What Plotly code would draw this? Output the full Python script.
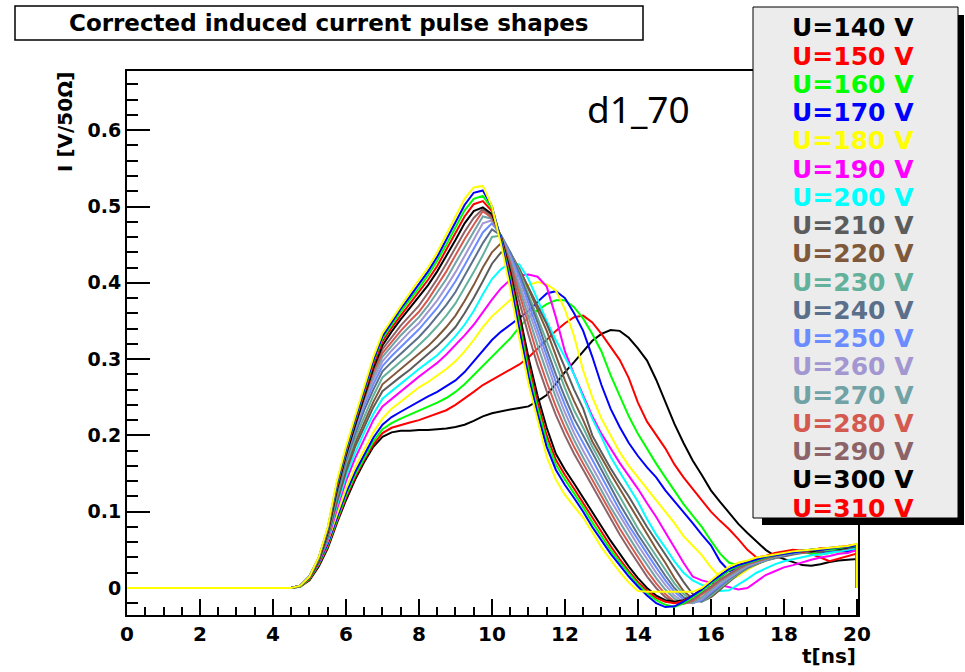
import plotly.graph_objects as go

# ---- sample times (ns): baseline point, 0.25 ns grid 4.5..20, closing bin ----
grid = [round(4.5 + 0.25 * k, 2) for k in range(63)]
times = [0.0] + grid + [20.0]

# ---- induced current I [V/50 Ohm] on the grid above, one list per bias voltage ----
u140 = [0, .002, .010, .028, .052, .085, .115, .142, .165, .185, .198,
        .204, .206, .206, .207, .207, .208, .209, .211, .214, .219, .225,
        .229, .232, .234, .236, .238, .245, .253, .268, .283, .296, .310,
        .324, .333, .338, .337, .328, .314, .298, .273, .243, .215, .190,
        .167, .148, .128, .113, .098, .084, .072, .061, .050, .042,
        .038, .033, .030, .029, .031, .034, .036, .037, .038]
u150 = [0, .002, .011, .030, .054, .087, .118, .145, .168, .188, .203,
        .210, .214, .217, .220, .224, .228, .233, .240, .248, .257, .266,
        .273, .280, .287, .293, .302, .314, .326, .337, .347, .355, .357,
        .348, .333, .316, .299, .275, .243, .218, .200, .183, .162, .145,
        .130, .115, .100, .088, .077, .064, .050, .040, .042, .046,
        .048, .050, .049, .045, .040, .035, .038, .042, .045]
u160 = [0, .002, .012, .031, .056, .089, .121, .148, .171, .192, .208,
        .216, .222, .227, .232, .237, .243, .249, .257, .267, .279, .292,
        .303, .315, .327, .342, .355, .364, .372, .377, .377, .368, .353,
        .333, .310, .279, .252, .225, .202, .182, .163, .145, .127, .110,
        .095, .080, .062, .045, .033, .030, .033, .036, .040, .042,
        .043, .045, .047, .046, .044, .046, .048, .047, .050]
u170 = [0, .003, .013, .033, .058, .092, .125, .152, .175, .197, .214,
        .224, .231, .238, .245, .251, .257, .264, .272, .283, .297, .312,
        .325, .336, .345, .353, .363, .375, .386, .389, .380, .360, .337,
        .303, .266, .235, .211, .190, .173, .158, .145, .128, .114, .100,
        .085, .070, .056, .035, .022, .025, .030, .035, .040, .043,
        .046, .045, .048, .050, .047, .049, .050, .048, .052]
u180 = [0, .003, .014, .035, .061, .096, .130, .158, .182, .204, .222,
        .235, .244, .254, .263, .270, .278, .287, .297, .310, .325, .342,
        .356, .367, .378, .388, .397, .401, .398, .390, .365, .330, .285,
        .250, .222, .200, .178, .160, .145, .131, .116, .100, .085, .068,
        .055, .043, .027, .014, .010, .016, .024, .031, .036, .040,
        .044, .047, .046, .049, .051, .050, .052, .054, .055]
u190 = [0, .003, .015, .033, .062, .103, .140, .170, .196, .220, .238,
        .248, .257, .267, .277, .286, .295, .306, .318, .331, .345, .362,
        .378, .393, .404, .410, .411, .408, .395, .355, .310, .280, .252,
        .225, .202, .183, .164, .147, .130, .111, .093, .073, .053, .033,
        .015, .010, .007, .004, .001, -.002, .000, .008, .017, .022,
        .027, .030, .034, .037, .040, .042, .045, .046, .050]
u200 = [0, .003, .015, .035, .065, .108, .146, .177, .204, .228, .248,
        .258, .268, .277, .287, .296, .305, .317, .330, .345, .363, .385,
        .405, .418, .426, .424, .405, .378, .350, .325, .303, .280, .250,
        .222, .198, .172, .152, .133, .113, .090, .070, .053, .035, .020,
        .010, .004, .000, -.004, -.003, .004, .012, .020, .026, .031,
        .035, .038, .040, .043, .044, .046, .048, .050, .052]
u210 = [0, .003, .015, .035, .067, .112, .152, .185, .212, .237, .258,
        .268, .277, .286, .296, .306, .317, .329, .342, .360, .380, .402,
        .425, .440, .437, .418, .395, .370, .346, .318, .288, .260, .235,
        .200, .178, .157, .138, .120, .100, .080, .062, .044, .025, .008,
        -.008, -.016, -.012, -.002, .010, .020, .027, .032, .036, .040,
        .042, .045, .046, .048, .047, .050, .051, .052, .055]
u220 = [0, .003, .015, .036, .069, .116, .157, .190, .218, .244, .267,
        .277, .286, .296, .306, .317, .329, .342, .357, .376, .397, .420,
        .440, .452, .440, .418, .392, .365, .337, .305, .272, .245, .220,
        .192, .170, .150, .130, .110, .090, .070, .051, .033, .013, -.004,
        -.014, -.018, -.012, -.002, .008, .018, .026, .031, .036, .039,
        .042, .044, .046, .047, .049, .050, .050, .052, .054]
u230 = [0, .003, .015, .037, .071, .120, .162, .196, .225, .252, .276,
        .287, .297, .307, .318, .330, .343, .357, .373, .393, .414, .436,
        .460, .462, .440, .415, .385, .355, .324, .293, .262, .233, .210,
        .185, .163, .140, .120, .098, .078, .060, .042, .024, .006, -.008,
        -.016, -.018, -.010, .000, .010, .019, .026, .032, .036, .040,
        .043, .045, .046, .048, .050, .049, .052, .053, .055]
u240 = [0, .003, .015, .038, .073, .124, .167, .202, .233, .260, .284,
        .296, .307, .318, .329, .342, .356, .371, .388, .409, .430, .452,
        .470, .462, .440, .412, .380, .348, .313, .280, .250, .222, .200,
        .177, .155, .132, .110, .090, .070, .052, .034, .016, .000, -.012,
        -.018, -.017, -.008, .002, .012, .020, .027, .033, .037, .040,
        .043, .045, .047, .048, .050, .051, .050, .053, .056]
u250 = [0, .003, .015, .038, .075, .127, .171, .207, .239, .267, .291,
        .304, .316, .328, .339, .353, .367, .384, .402, .423, .444, .466,
        .478, .462, .437, .407, .373, .338, .303, .270, .240, .212, .190,
        .168, .146, .123, .102, .082, .063, .045, .027, .010, -.005, -.015,
        -.020, -.016, -.006, .004, .013, .021, .028, .033, .037, .041,
        .043, .046, .047, .049, .050, .051, .053, .052, .056]
u260 = [0, .003, .015, .039, .076, .130, .174, .211, .244, .273, .297,
        .311, .324, .336, .347, .362, .377, .395, .414, .435, .456, .478,
        .482, .460, .433, .400, .365, .330, .294, .260, .230, .203, .180,
        .158, .137, .115, .095, .075, .056, .038, .020, .004, -.010, -.018,
        -.020, -.014, -.004, .006, .014, .022, .029, .034, .038, .041,
        .044, .046, .048, .049, .051, .050, .053, .054, .056]
u270 = [0, .003, .015, .039, .077, .132, .177, .214, .248, .278, .303,
        .317, .331, .343, .355, .370, .387, .405, .426, .447, .467, .487,
        .484, .460, .430, .393, .355, .318, .283, .250, .220, .194, .171,
        .150, .128, .106, .086, .067, .048, .030, .013, -.002, -.014, -.020,
        -.019, -.012, -.002, .008, .016, .023, .030, .035, .038, .042,
        .044, .046, .048, .050, .050, .052, .053, .054, .057]
u280 = [0, .003, .015, .039, .077, .133, .179, .216, .251, .283, .308,
        .323, .337, .350, .362, .378, .396, .415, .436, .457, .476, .494,
        .485, .460, .426, .385, .345, .305, .270, .238, .210, .185, .163,
        .142, .120, .098, .078, .059, .040, .022, .006, -.008, -.018, -.021,
        -.017, -.009, .000, .010, .018, .025, .031, .035, .039, .042,
        .045, .047, .048, .050, .051, .052, .054, .053, .057]
u290 = [0, .003, .014, .038, .076, .133, .180, .218, .254, .287, .313,
        .329, .344, .357, .370, .387, .405, .425, .446, .467, .485, .497,
        .487, .460, .422, .375, .332, .292, .258, .227, .200, .176, .155,
        .134, .112, .090, .070, .051, .033, .015, .000, -.012, -.019, -.020,
        -.015, -.007, .002, .011, .019, .026, .032, .036, .039, .042,
        .045, .047, .049, .050, .051, .052, .053, .055, .057]
u300 = [0, .003, .014, .036, .073, .128, .174, .213, .252, .288, .318,
        .336, .352, .367, .382, .397, .415, .435, .456, .478, .494, .499,
        .490, .460, .415, .360, .302, .252, .210, .176, .155, .137, .118,
        .099, .080, .062, .045, .028, .013, .000, -.010, -.016, -.018, -.016,
        -.010, -.003, .006, .015, .023, .029, .034, .038, .041, .043,
        .045, .047, .049, .048, .050, .052, .051, .053, .055]
u310 = [0, .003, .014, .037, .075, .132, .178, .218, .257, .293, .323,
        .341, .357, .373, .388, .404, .422, .443, .465, .487, .503, .507,
        .494, .458, .410, .352, .293, .243, .200, .168, .148, .130, .111,
        .092, .073, .055, .038, .022, .008, -.004, -.013, -.018, -.020, -.017,
        -.010, -.002, .007, .016, .024, .030, .034, .038, .041, .044,
        .046, .048, .047, .050, .052, .051, .053, .055, .057]
u320 = [0, .003, .015, .038, .077, .135, .180, .220, .260, .297, .327,
        .345, .362, .378, .393, .410, .429, .450, .473, .495, .510, .514,
        .497, .457, .405, .345, .285, .236, .193, .162, .142, .124, .106,
        .086, .068, .050, .034, .019, .005, -.007, -.016, -.022, -.025, -.020,
        -.012, -.004, .006, .015, .023, .029, .033, .037, .040, .043,
        .045, .046, .048, .050, .051, .050, .052, .054, .055]
u330 = [0, .003, .015, .039, .078, .137, .182, .222, .262, .299, .330,
        .348, .366, .382, .398, .415, .434, .456, .480, .502, .518, .521,
        .500, .455, .400, .338, .277, .228, .185, .155, .135, .118, .100,
        .080, .062, .045, .030, .015, .002, -.010, -.020, -.025, -.024, -.018,
        -.010, -.002, .008, .017, .025, .030, .034, .038, .041, .043,
        .045, .047, .049, .050, .050, .052, .053, .054, .056]
u340 = [0, .003, .015, .040, .080, .140, .185, .225, .265, .303, .334,
        .352, .370, .387, .404, .420, .440, .463, .488, .510, .525, .527,
        .500, .450, .392, .327, .268, .218, .172, .142, .122, .107, .092,
        .073, .053, .037, .021, .007, -.004, -.005, -.005, -.005, -.005, -.005,
        -.005, .000, .010, .020, .028, .033, .036, .040, .042, .044,
        .046, .048, .049, .050, .051, .052, .053, .055, .058]

voltages = [140, 150, 160, 170, 180, 190, 200, 210, 220, 230, 240,
            250, 260, 270, 280, 290, 300, 310, 320, 330, 340]
colors = ["#000000", "#ff0000", "#00ff00", "#0000ff", "#ffff00", "#ff00ff",
          "#00ffff", "#5c5c5c", "#80593a", "#63b09b", "#5b6f8a", "#6a8cff",
          "#a297d0", "#70a2a6", "#d45a50", "#8c6468", "#000000", "#ff0000",
          "#00ff00", "#0000ff", "#ffff00"]
series = [u140, u150, u160, u170, u180, u190, u200, u210, u220, u230, u240,
          u250, u260, u270, u280, u290, u300, u310, u320, u330, u340]
n_legend = 18  # the key lists 140 V .. 310 V

# ---- page geometry (pixels) ----
W, H = 965, 672
L, R, T, B = 127, 858, 71, 615


def px_x(px):
    return (px - L) / (R - L)


def px_y(py):
    return (B - py) / (B - T)


fig = go.Figure()
for vals, col in zip(series, colors):
    fig.add_trace(go.Scatter(
        x=times, y=[0.0] + vals + [0.0], mode="lines",
        line=dict(color=col, width=2), showlegend=False, hoverinfo="skip"))

bold = dict(family="DejaVu Sans", color="black", weight="bold")

shapes = [
    # title frame
    dict(type="rect", xref="paper", yref="paper", layer="above",
         x0=px_x(15), x1=px_x(643), y0=px_y(40), y1=px_y(6),
         line=dict(color="black", width=1.5), fillcolor="white"),
    # key shadow and key box
    dict(type="rect", xref="paper", yref="paper", layer="above",
         x0=px_x(762), x1=px_x(964), y0=px_y(525), y1=px_y(15),
         line=dict(width=0), fillcolor="black"),
    dict(type="rect", xref="paper", yref="paper", layer="above",
         x0=px_x(753), x1=px_x(958), y0=px_y(518), y1=px_y(7),
         line=dict(color="black", width=1), fillcolor="#ececec"),
]

annotations = [
    dict(text="Corrected induced current pulse shapes", xref="paper", yref="paper",
         x=px_x(329), y=px_y(23), xanchor="center", yanchor="middle",
         showarrow=False, font=dict(bold, size=23)),
    dict(text="d1_70", xref="paper", yref="paper", x=px_x(638), y=px_y(109),
         xanchor="center", yanchor="middle", showarrow=False,
         font=dict(family="Noto Sans", size=37, color="black")),
    dict(text="t[ns]", xref="paper", yref="paper", x=px_x(858), y=px_y(670),
         xanchor="right", yanchor="bottom", showarrow=False,
         font=dict(bold, size=20)),
    dict(text="I [V/50\u03a9]", xref="paper", yref="paper", x=px_x(65), y=px_y(70),
         xanchor="center", yanchor="top", textangle=-90, showarrow=False,
         font=dict(bold, size=20)),
]
for i in range(n_legend):
    annotations.append(dict(
        text=f"U={voltages[i]} V", xref="paper", yref="paper",
        x=px_x(853), y=px_y(28 + 28.24 * i), xanchor="center", yanchor="middle",
        showarrow=False,
        font=dict(family="DejaVu Sans", size=25, color=colors[i], weight="bold")))

# axes and ticks sit underneath the pulse lines
axis_common = dict(showline=True, linecolor="black", linewidth=2, mirror=True,
                   ticks="inside", tickcolor="black", tickwidth=1.5,
                   showgrid=False, zeroline=False, layer="below traces")

fig.update_layout(
    width=W, height=H,
    margin=dict(l=L, r=W - R, t=T, b=H - B),
    paper_bgcolor="white", plot_bgcolor="white",
    showlegend=False,
    shapes=shapes, annotations=annotations,
    xaxis=dict(axis_common, range=[0, 20.03], tick0=0, dtick=2, ticklen=16,
               tickfont=dict(bold, size=20),
               minor=dict(dtick=0.5, tick0=0, ticks="inside", ticklen=8,
                          tickwidth=1.5, tickcolor="black", showgrid=False)),
    yaxis=dict(axis_common, range=[-0.0354, 0.6776], tick0=0, dtick=0.1, ticklen=23,
               tickfont=dict(bold, size=19),
               minor=dict(dtick=0.02, tick0=0, ticks="inside", ticklen=11,
                          tickwidth=1.5, tickcolor="black", showgrid=False)),
)

fig.write_html("out.html", config={"displayModeBar": False})
